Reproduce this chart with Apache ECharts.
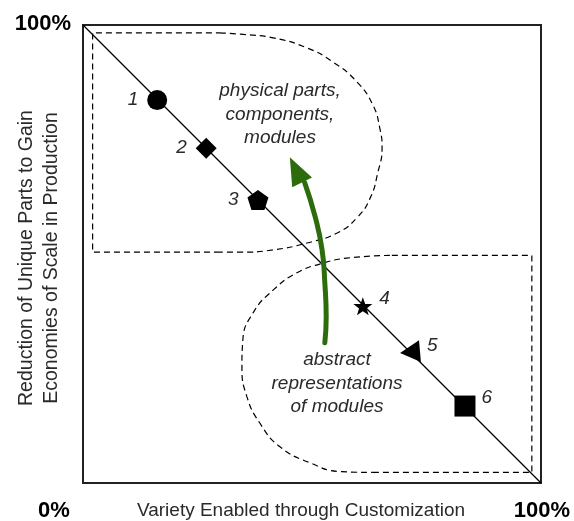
<!DOCTYPE html>
<html>
<head>
<meta charset="utf-8">
<script src="https://cdn.jsdelivr.net/npm/echarts@6/dist/echarts.min.js"></script>
<style>
html,body{margin:0;padding:0;background:#fff;}
#chart{width:574px;height:521px;}
</style>
</head>
<body>
<div id="chart"></div>
<script>
// ---- data ----
const markerNames = ['1', '2', '3', '4', '5', '6'];
const markerX = [16.2, 26.9, 38.2, 61.1, 71.4, 83.4];
const markerY = [83.6, 73.1, 61.8, 38.6, 28.6, 16.8];
const diagonal = [[0, 100], [100, 0]];
const upperBox = [[29.9, 50.4], [2.1, 50.4], [2.1, 98.3], [29.9, 98.3]];
const upperCurve = [[29.9, 98.3], [34.3, 98.0], [41.5, 97.2], [48.9, 95.0], [54.6, 91.9], [59.8, 87.6], [63.3, 82.5], [64.8, 77.5], [65.3, 73.1], [64.4, 67.9], [62.7, 62.2], [59.8, 57.9], [55.5, 54.6], [48.9, 52.4], [41.5, 50.9], [34.3, 50.4], [29.9, 50.4]];
const lowerBox = [[63.3, 2.3], [98.0, 2.3], [98.0, 49.7], [67.0, 49.7]];
const lowerCurve = [[67.0, 49.7], [57.6, 49.1], [52.4, 48.0], [46.7, 45.9], [41.5, 42.1], [37.1, 37.1], [34.9, 31.2], [34.7, 25.3], [35.8, 18.8], [38.6, 13.1], [43.0, 7.9], [49.6, 4.4], [56.1, 2.5], [63.3, 2.3]];
const arrowShaft = [[52.8, 30.6], [53.1, 36.2], [52.8, 43.7], [52.2, 50.9], [50.7, 58.1], [48.4, 65.6]];
const arrowHead = [[46.5, 68.4]];
const upperText = 'physical parts,\ncomponents,\nmodules';
const lowerText = 'abstract\nrepresentations\nof modules';
const xTitle = 'Variety Enabled through Customization';
const yTitle = 'Reduction of Unique Parts to Gain\nEconomies of Scale in Production';
const tickLow = '0%';
const tickHigh = '100%';

// ---- symbols ----
const pentagon = 'path://M0,-10 L9.51,-3.09 L5.88,8.09 L-5.88,8.09 L-9.51,-3.09 Z';
const star = 'path://M0,-10 L2.35,-3.24 L9.51,-3.09 L3.80,1.24 L5.88,8.09 L0,4 L-5.88,8.09 L-3.80,1.24 L-9.51,-3.09 L-2.35,-3.24 Z';
const markerSymbols = ['circle', 'diamond', pentagon, star, 'triangle', 'rect'];
const markerSizes = [20, 21, [21, 20], [19, 18], [22, 20], 21];
const markerRotate = [0, 0, 0, 0, 95, 0];
const labelPos = ['left', 'left', 'left', 'right', 'right', 'right'];
const labelOffset = [[-3, 0], [-3, 0], [-3, 0], [1, -7], [0, -6], [0, -8]];

const FONT = 'Liberation Sans';
const TEXT = '#2a2a2a';
const GREEN = '#2d6c0c';
const chart = echarts.init(document.getElementById('chart'));

const dashStyle = { color: '#000', width: 1.2, type: [6, 4] };
function lineSeries(data, style, smooth) {
  return {
    type: 'line', data: data, smooth: smooth, symbol: 'none', clip: false,
    lineStyle: style, silent: true, z: 2
  };
}

const markerSeries = markerNames.map((n, i) => ({
  type: 'scatter',
  data: [[markerX[i], markerY[i]]],
  symbol: markerSymbols[i],
  symbolSize: markerSizes[i],
  symbolRotate: markerRotate[i],
  itemStyle: { color: '#000', opacity: 1 },
  z: 5,
  label: {
    show: true, formatter: n, position: labelPos[i], distance: 6,
    offset: labelOffset[i],
    fontFamily: FONT, fontStyle: 'italic', fontSize: 19, color: TEXT
  }
}));

chart.setOption({
  animation: false,
  grid: { left: 83, top: 25, width: 458, height: 458, show: true, borderColor: '#222', borderWidth: 2, backgroundColor: 'transparent' },
  xAxis: { type: 'value', min: 0, max: 100, axisLine: { show: false }, axisTick: { show: false }, axisLabel: { show: false }, splitLine: { show: false } },
  yAxis: { type: 'value', min: 0, max: 100, axisLine: { show: false }, axisTick: { show: false }, axisLabel: { show: false }, splitLine: { show: false } },
  series: [
    lineSeries(diagonal, { color: '#000', width: 1.3 }, false),
    lineSeries(upperBox, dashStyle, false),
    lineSeries(upperCurve, dashStyle, true),
    lineSeries(lowerBox, dashStyle, false),
    lineSeries(lowerCurve, dashStyle, true),
    Object.assign(lineSeries(arrowShaft, { color: GREEN, width: 5, cap: 'round' }, true), { z: 4 }),
    {
      type: 'scatter', data: arrowHead, symbol: 'triangle', symbolSize: [22, 28], symbolRotate: 26,
      itemStyle: { color: GREEN, opacity: 1 }, z: 4, silent: true
    }
  ].concat(markerSeries),
  graphic: [
    { type: 'text', style: { text: upperText, x: 280, y: 79, align: 'center', verticalAlign: 'top', lineHeight: 23.5, font: 'italic 19px ' + FONT, fill: TEXT } },
    { type: 'text', style: { text: lowerText, x: 337, y: 348, align: 'center', verticalAlign: 'top', lineHeight: 23.5, font: 'italic 19px ' + FONT, fill: TEXT } },
    { type: 'text', style: { text: xTitle, x: 301, y: 511, align: 'center', verticalAlign: 'middle', font: '19px ' + FONT, fill: TEXT } },
    { type: 'text', x: 39, y: 258, rotation: Math.PI / 2, style: { text: yTitle, x: 0, y: 0, align: 'center', verticalAlign: 'middle', lineHeight: 25, font: '19.5px ' + FONT, fill: TEXT } },
    { type: 'text', style: { text: tickLow, x: 54, y: 511, align: 'center', verticalAlign: 'middle', font: 'bold 22px ' + FONT, fill: '#000' } },
    { type: 'text', style: { text: tickHigh, x: 542, y: 511, align: 'center', verticalAlign: 'middle', font: 'bold 22px ' + FONT, fill: '#000' } },
    { type: 'text', style: { text: tickHigh, x: 71, y: 24, align: 'right', verticalAlign: 'middle', font: 'bold 22px ' + FONT, fill: '#000' } }
  ]
});
</script>
</body>
</html>
